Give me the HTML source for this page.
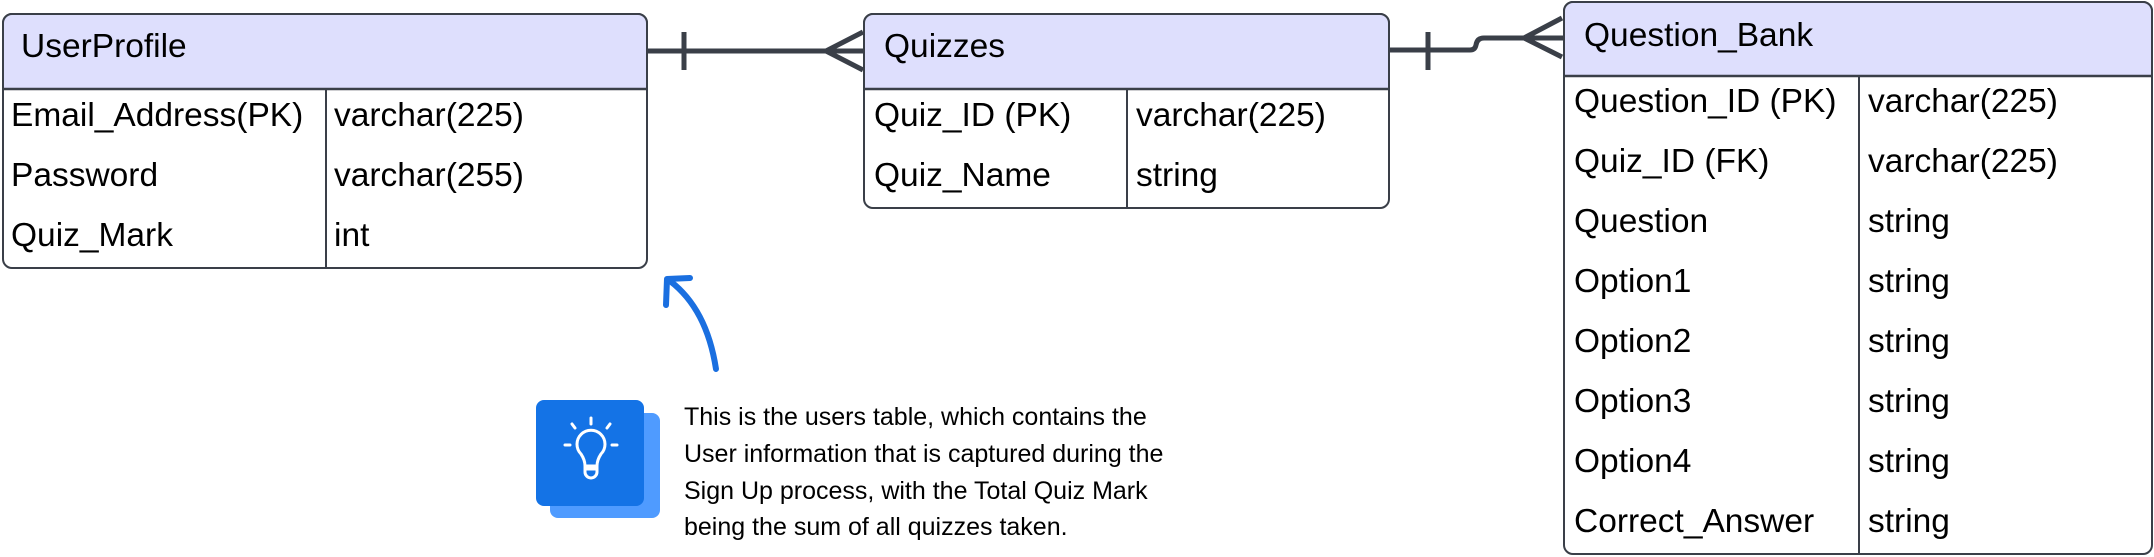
<!DOCTYPE html>
<html><head><meta charset="utf-8"><style>
html,body{margin:0;padding:0;background:#fff;}
svg{display:block;}
text{font-family:"Liberation Sans",sans-serif;fill:#000;}
</style></head><body>
<svg width="2154" height="557" viewBox="0 0 2154 557" xmlns="http://www.w3.org/2000/svg">
<!-- UserProfile -->
<rect x="3" y="14" width="644" height="254" rx="9" fill="#fff" stroke="#3a3f48" stroke-width="2"/>
<path d="M3 89 V23 a9 9 0 0 1 9 -9 H638 a9 9 0 0 1 9 9 V89 Z" fill="#dedffd" stroke="#3a3f48" stroke-width="2"/>
<line x1="3" y1="89" x2="647" y2="89" stroke="#3a3f48" stroke-width="2.5"/>
<line x1="326" y1="89" x2="326" y2="268" stroke="#3a3f48" stroke-width="2"/>
<g font-size="33.5">
<text x="21" y="57">UserProfile</text>
<text x="11" y="126">Email_Address(PK)</text>
<text x="334" y="126">varchar(225)</text>
<text x="11" y="186">Password</text>
<text x="334" y="186">varchar(255)</text>
<text x="11" y="246">Quiz_Mark</text>
<text x="334" y="246">int</text>
</g>

<!-- Quizzes -->
<rect x="864" y="14" width="525" height="194" rx="9" fill="#fff" stroke="#3a3f48" stroke-width="2"/>
<path d="M864 89 V23 a9 9 0 0 1 9 -9 H1380 a9 9 0 0 1 9 9 V89 Z" fill="#dedffd" stroke="#3a3f48" stroke-width="2"/>
<line x1="864" y1="89" x2="1389" y2="89" stroke="#3a3f48" stroke-width="2.5"/>
<line x1="1127" y1="89" x2="1127" y2="208" stroke="#3a3f48" stroke-width="2"/>
<g font-size="33.5">
<text x="884" y="57">Quizzes</text>
<text x="874" y="126">Quiz_ID (PK)</text>
<text x="1136" y="126">varchar(225)</text>
<text x="874" y="186">Quiz_Name</text>
<text x="1136" y="186">string</text>
</g>

<!-- Question_Bank -->
<rect x="1564" y="2" width="588" height="552" rx="9" fill="#fff" stroke="#3a3f48" stroke-width="2"/>
<path d="M1564 76 V11 a9 9 0 0 1 9 -9 H2143 a9 9 0 0 1 9 9 V76 Z" fill="#dedffd" stroke="#3a3f48" stroke-width="2"/>
<line x1="1564" y1="76" x2="2152" y2="76" stroke="#3a3f48" stroke-width="2.5"/>
<line x1="1859" y1="76" x2="1859" y2="554" stroke="#3a3f48" stroke-width="2"/>
<g font-size="33.5">
<text x="1584" y="46">Question_Bank</text>
<text x="1574" y="112">Question_ID (PK)</text><text x="1868" y="112">varchar(225)</text>
<text x="1574" y="172">Quiz_ID (FK)</text><text x="1868" y="172">varchar(225)</text>
<text x="1574" y="232">Question</text><text x="1868" y="232">string</text>
<text x="1574" y="292">Option1</text><text x="1868" y="292">string</text>
<text x="1574" y="352">Option2</text><text x="1868" y="352">string</text>
<text x="1574" y="412">Option3</text><text x="1868" y="412">string</text>
<text x="1574" y="472">Option4</text><text x="1868" y="472">string</text>
<text x="1574" y="532">Correct_Answer</text><text x="1868" y="532">string</text>
</g>

<!-- Connector 1 -->
<g stroke="#3a3f48" stroke-width="5" fill="none">
<line x1="647" y1="51" x2="864" y2="51"/>
<line x1="684" y1="32" x2="684" y2="70"/>
<polyline points="863,32 826,51 863,70"/>
<!-- Connector 2 -->
<path d="M1389 50 H1470 q5 0 6 -5 q1 -7 8 -7 H1563"/>
<line x1="1428" y1="32" x2="1428" y2="70"/>
<polyline points="1562,18 1524,38 1562,57"/>
</g>

<!-- Blue arrow -->
<g stroke="#1a6fe0" stroke-width="6" fill="none" stroke-linecap="round" stroke-linejoin="round">
<path d="M716 369 C710 330 695 300 670 281"/>
<polyline points="666,305 667,279 690,278"/>
</g>

<!-- Lightbulb icon -->
<rect x="550" y="413" width="110" height="105" rx="8" fill="#4f9bff"/>
<rect x="536" y="400" width="108" height="106" rx="8" fill="#1473e6"/>
<g stroke="#fff" stroke-width="3" fill="none" stroke-linecap="round">
<path d="M581 454 a14 14 0 1 1 20 0 q-4 6 -4 12 h-12 q0 -6 -4 -12 z"/>
<path d="M585 469 h12 v3 a6 6 0 0 1 -12 0 z"/>
<line x1="591" y1="418" x2="591" y2="424"/>
<line x1="572" y1="424" x2="575" y2="428"/>
<line x1="610" y1="424" x2="607" y2="428"/>
<line x1="565" y1="445" x2="570" y2="445"/>
<line x1="612" y1="445" x2="617" y2="445"/>
</g>

<!-- Note text -->
<g font-size="25">
<text x="684" y="425">This is the users table, which contains the</text>
<text x="684" y="462">User information that is captured during the</text>
<text x="684" y="499">Sign Up process, with the Total Quiz Mark</text>
<text x="684" y="535">being the sum of all quizzes taken.</text>
</g>
</svg>
</body></html>
